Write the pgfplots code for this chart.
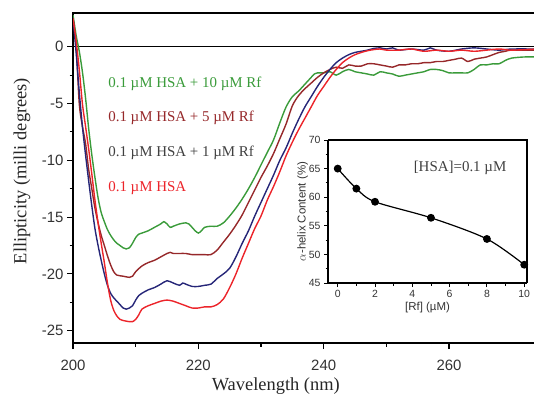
\documentclass[border=0pt]{standalone}
\usepackage{fontspec}
\setmainfont{Liberation Serif}
\setsansfont{Liberation Sans}
\usepackage{pgfplots}
\pgfplotsset{compat=1.18}
\definecolor{cgreen}{RGB}{58,155,58}
\definecolor{cdred}{RGB}{150,40,42}
\definecolor{cblue}{RGB}{38,38,120}
\definecolor{cred}{RGB}{236,36,42}
\definecolor{cgrey}{RGB}{64,64,64}
\begin{document}
\begin{tikzpicture}[x=1bp,y=1bp]
\useasboundingbox (0,0) rectangle (534,394);
\begin{axis}[name=inset,
  at={(328bp,111bp)}, anchor=south west, scale only axis,
  width=199bp, height=143bp, clip=false,
  xmin=-0.52, xmax=10.15, ymin=45, ymax=70,
  axis x line*=bottom, axis y line*=left,
  xtick={0,2,4,6,8,10}, minor x tick num=1,
  ytick={45,50,55,60,65,70}, minor y tick num=1,
  tick align=outside,
  major tick length=4bp, minor tick length=2.5bp,
  axis line style={line width=1.1bp, black},
  every tick/.style={line width=0.9bp, black},
  /pgf/number format/assume math mode=true,
  tick label style={font=\sffamily\fontsize{10.5}{12}\selectfont, text=black!80},
  xlabel={[Rf] (µM)}, ylabel={$\alpha$-helix Content (\%)},
  label style={font=\sffamily\fontsize{11.5}{13}\selectfont, text=black!80},
  xlabel style={yshift=3bp},
  ylabel style={yshift=-6bp},
]
\addplot[black, line width=1.1bp] coordinates {(-0.52,70) (10.15,70) (10.15,45)};
\addplot[black, line width=1.2bp, smooth, mark=*, mark size=3.3bp] coordinates {
(0,65) (1,61.5) (2,59.2) (5,56.4) (8,52.7) (10,48.2)};
\node[font=\fontsize{15}{18}\selectfont, text=cgrey] at (axis cs:6.56,65.1) {[HSA]=0.1 µM};
\end{axis}
\begin{axis}[name=main,
  at={(73bp,51bp)}, anchor=south west, scale only axis,
  width=464bp, height=330bp,
  xmin=200, xmax=274.04, ymin=-26.08, ymax=2.97,
  axis x line*=bottom, axis y line*=left,
  xtick={200,220,240,260}, minor x tick num=1,
  ytick={-25,-20,-15,-10,-5,0}, minor y tick num=1,
  tick align=outside,
  major tick length=6bp, minor tick length=3.5bp,
  axis line style={line width=1.3bp, black},
  every tick/.style={line width=1.1bp, black},
  /pgf/number format/assume math mode=true,
  tick label style={font=\sffamily\fontsize{15}{18}\selectfont, text=black!80},
  xticklabel style={yshift=-8bp},
  xlabel={Wavelength (nm)}, ylabel={Ellipticity (milli degrees)},
  label style={font=\fontsize{18.5}{22}\selectfont, text=black!85},
  xlabel style={at={(axis description cs:0.437,-0.130)}, anchor=center},
  ylabel style={at={(axis description cs:-0.110,0.521)}, anchor=center},
  every axis plot/.append style={line width=1.4bp},
]
\addplot[black, line width=1.3bp] coordinates {(200,0) (276,0)};
% 0.1 uM HSA + 10 uM Rf
\addplot[cgreen, smooth] coordinates {
(200,2.8) (200.5,1.0) (201,-0.4) (201.5,-2.2) (202,-4.5) (202.5,-7.2) (203,-9.5) (203.5,-11.5)
(204,-13.3) (204.5,-14.6) (205,-15.4) (205.5,-16.1) (206,-16.6) (206.5,-17.0) (207,-17.3)
(207.5,-17.5) (208,-17.7) (208.5,-17.8) (209,-17.7) (209.5,-17.3) (210,-16.8) (210.5,-16.5)
(211,-16.4) (212,-16.2) (213,-15.9) (214,-15.6) (214.5,-15.4) (215,-15.6) (215.5,-15.9)
(216,-15.8) (217,-15.6) (218,-15.5) (218.5,-15.6) (219,-15.9) (219.5,-16.2) (220,-16.4)
(220.5,-16.2) (221,-15.9) (222,-15.8) (223,-15.8) (224,-15.5) (225,-14.9) (226,-14.2)
(227,-13.4) (228,-12.5) (229,-11.5) (230,-10.4) (231,-9.3) (232,-8.2) (233,-6.7) (234,-5.3)
(235,-4.4) (236,-3.9) (237,-3.3) (238,-2.7) (238.5,-2.4) (239,-2.3) (240,-2.3) (241,-2.2)
(242,-2.5) (243,-2.2) (244,-2.0) (245,-2.2) (246,-2.3) (247,-2.4) (248,-2.5) (249,-2.2)
(250,-2.3) (251,-2.4) (252,-2.6) (253,-2.5) (254,-2.4) (255,-2.3) (256,-2.2) (257,-2.0)
(258,-2.0) (259,-2.1) (260,-2.3) (261,-2.3) (262,-2.3) (263,-2.3) (264,-2.0) (265,-1.6)
(266,-1.6) (267,-1.5) (268,-1.5) (269,-1.2) (270,-1.0) (272,-0.9) (274,-0.9)};
% 0.1 uM HSA + 5 uM Rf
\addplot[cdred, smooth] coordinates {
(200,2.5) (200.5,0) (201,-5.0) (201.5,-7.0) (202,-8.5) (202.5,-10.8) (203,-12.5) (203.5,-14.2)
(204,-15.5) (204.5,-16.6) (205,-17.5) (205.5,-18.4) (206,-19.2) (206.5,-19.8) (207,-20.1)
(208,-20.2) (209,-20.3) (209.5,-20.2) (210,-19.8) (211,-19.3) (212,-19.0) (213,-18.8)
(214,-18.5) (215,-18.2) (215.5,-18.1) (216,-18.2) (217,-18.2) (218,-18.2) (219,-18.3)
(220,-18.3) (221,-18.3) (222,-18.3) (223,-17.9) (224,-17.2) (225,-16.5) (226,-15.7)
(227,-14.8) (228,-13.7) (229,-12.6) (230,-11.5) (231,-10.5) (232,-9.4) (233,-8.1) (234,-6.8)
(235,-5.2) (236,-4.3) (237,-3.7) (238,-3.2) (239,-2.7) (240,-2.3) (241,-2.0) (242,-1.8)
(243,-1.9) (244,-1.6) (245,-1.7) (246,-1.7) (247,-1.5) (248,-1.5) (249,-1.6) (250,-1.7)
(251,-1.8) (252,-1.6) (253,-1.6) (254,-1.5) (255,-1.5) (256,-1.4) (257,-1.4) (258,-1.3)
(259,-1.3) (260,-1.2) (261,-1.1) (262,-1.0) (263,-1.3) (264,-1.1) (265,-1.0) (266,-0.9)
(267,-0.7) (268,-0.5) (269,-0.4) (270,-0.3) (274,-0.3)};
% 0.1 uM HSA + 1 uM Rf
\addplot[cblue, smooth] coordinates {
(200,2.5) (200.5,-0.5) (201,-4.0) (201.5,-7.0) (202,-9.5) (202.5,-11.8) (203,-14.0) (203.5,-16.0)
(204,-17.5) (204.5,-18.8) (205,-20.0) (205.5,-21.0) (206,-21.7) (206.5,-22.1) (207,-22.4)
(207.5,-22.7) (208,-23.0) (208.5,-23.1) (209,-23.0) (209.5,-22.8) (210,-22.3) (210.5,-21.9)
(211,-21.7) (212,-21.4) (213,-21.2) (214,-20.9) (215,-20.6) (216,-20.8) (217,-21.0)
(217.5,-20.8) (218,-20.9) (219,-21.1) (220,-21.1) (221,-21.0) (222,-20.9) (223,-20.4)
(224,-20.0) (225,-19.5) (226,-18.5) (227,-17.3) (228,-16.2) (229,-14.9) (230,-13.7)
(231,-12.5) (232,-11.3) (233,-10.0) (234,-8.9) (235,-7.6) (236,-6.4) (237,-5.3) (238,-4.4)
(239,-3.5) (240,-2.7) (241,-2.0) (242,-1.4) (243,-1.0) (244,-0.7) (245,-0.5) (246,-0.4)
(247,-0.3) (248,-0.15) (249,-0.1) (250,-0.2) (251,-0.1) (252,-0.3) (254,-0.2) (256,-0.3)
(257,-0.1) (258,-0.3) (260,-0.4) (262,-0.2) (264,-0.1) (266,-0.2) (268,-0.3) (270,-0.2) (274,-0.2)};
% 0.1 uM HSA
\addplot[cred, smooth] coordinates {
(200,2.5) (200.5,0.5) (201,-2.0) (201.5,-5.0) (202,-7.0) (202.5,-9.0) (203,-11.2) (203.5,-13.5)
(204,-15.5) (204.5,-17.3) (205,-19.0) (205.5,-20.8) (206,-22.3) (206.5,-23.2) (207,-23.7)
(207.5,-24.0) (208,-24.1) (209,-24.2) (209.5,-24.2) (210,-24.0) (210.5,-23.6) (211,-23.1)
(212,-22.8) (213,-22.6) (214,-22.4) (215,-22.3) (216,-22.4) (217,-22.6) (218,-22.8)
(219,-23.0) (220,-23.0) (221,-22.9) (222,-22.9) (223,-22.7) (224,-22.2) (225,-21.2)
(226,-20.0) (227,-18.6) (228,-17.3) (229,-16.0) (230,-14.9) (231,-13.5) (232,-12.3)
(233,-11.0) (234,-9.6) (235,-8.4) (236,-7.3) (237,-6.3) (238,-5.3) (239,-4.3) (240,-3.5)
(241,-2.7) (242,-2.0) (243,-1.4) (244,-1.0) (245,-0.7) (246,-0.5) (247,-0.35) (248,-0.25)
(249,-0.2) (250,-0.3) (252,-0.3) (254,-0.2) (256,-0.4) (258,-0.3) (260,-0.4) (262,-0.3)
(264,-0.4) (266,-0.3) (268,-0.2) (270,-0.3) (274,-0.2)};
\begin{scope}[every node/.style={anchor=west, font=\fontsize{15}{18}\selectfont, inner sep=0pt}]
\node[text=cgreen] at (axis cs:205.6,-3.28) {0.1 µM HSA + 10 µM Rf};
\node[text=cdred] at (axis cs:205.6,-6.25) {0.1 µM HSA + 5 µM Rf};
\node[text=cgrey] at (axis cs:205.6,-9.36) {0.1 µM HSA + 1 µM Rf};
\node[text=cred] at (axis cs:205.6,-12.43) {0.1 µM HSA};
\end{scope}
\end{axis}
\fill[black] (72.35,380.35) rectangle (534,381.65);
\draw[black, line width=1.3bp] (72.35,381) -- (540,381);
\end{tikzpicture}
\end{document}
